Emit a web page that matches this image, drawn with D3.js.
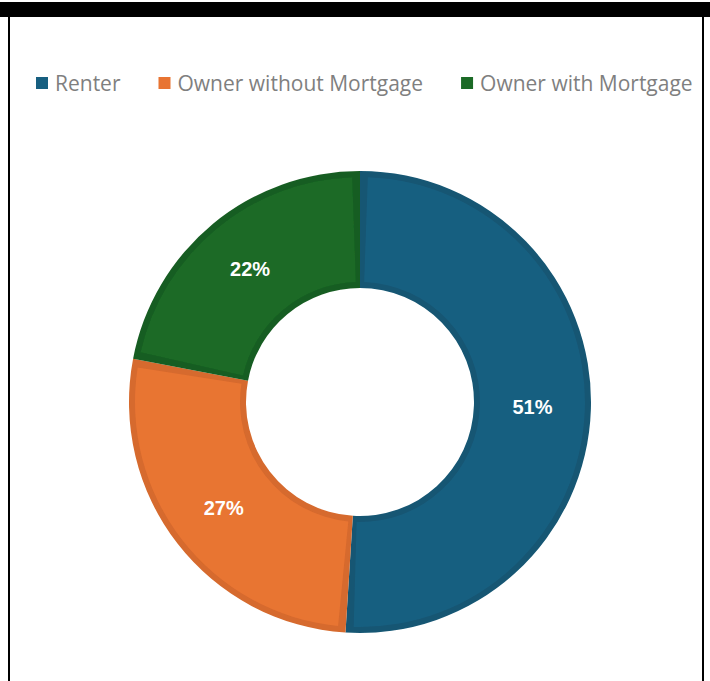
<!DOCTYPE html>
<html><head><meta charset="utf-8">
<script src="https://cdn.jsdelivr.net/npm/d3@7"></script>
<style>body{margin:0;background:#fff;}svg{display:block;}</style>
</head><body>
<svg id="c" width="710" height="681"></svg>
<script>
const categories = ["Renter", "Owner without Mortgage", "Owner with Mortgage"];
const values = [51, 27, 22];
const labels = ["51%", "27%", "22%"];
const colors = ["#175f80", "#e87432", "#1b6a26"];
const edgeColors = ["#145673", "#d66a2d", "#185d22"];

const svg = d3.select("#c");
// frame
svg.append("rect").attr("x", 0).attr("y", 2).attr("width", 710).attr("height", 15).attr("fill", "#000");
svg.append("line").attr("x1", 9).attr("x2", 9).attr("y1", 17).attr("y2", 681).attr("stroke", "#000").attr("stroke-width", 2);
svg.append("line").attr("x1", 703).attr("x2", 703).attr("y1", 17).attr("y2", 681).attr("stroke", "#000").attr("stroke-width", 2);

// legend
const legend = svg.append("g").attr("font-family", "'Open Sans', sans-serif").attr("font-size", 21);
let lx = 36;
categories.forEach((c, i) => {
  const g = legend.append("g").attr("transform", `translate(${lx},0)`);
  g.append("rect").attr("x", 0).attr("y", 77).attr("width", 12).attr("height", 12).attr("fill", colors[i]);
  const t = g.append("text").attr("x", 19).attr("y", 90.5).attr("fill", "#7f7f7f").text(c);
  lx += 19 + t.node().getComputedTextLength() + 38;
});

// donut
const cx = 360, cy = 402, R = 231, r = 114, bw = 6;
const pie = d3.pie().sort(null).value(d => d)(values);
const defs = svg.append("defs");
defs.append("filter").attr("id", "soft").append("feGaussianBlur").attr("stdDeviation", 0.7);
const arcOuter = d3.arc().innerRadius(r).outerRadius(R);
const arcInner = d3.arc().innerRadius(r + bw).outerRadius(R - bw);
const g = svg.append("g").attr("transform", `translate(${cx},${cy})`).attr("filter", "url(#soft)");
pie.forEach((p, i) => {
  g.append("path").attr("d", arcOuter(p)).attr("fill", edgeColors[i]);
});
pie.forEach((p, i) => {
  const pad = bw / ((R + r) / 2);
  const q = {startAngle: p.startAngle + pad, endAngle: p.endAngle - pad};
  g.append("path").attr("d", arcInner(q)).attr("fill", colors[i]);
});
const arcMid = d3.arc().innerRadius(r).outerRadius(R);
const lg = svg.append("g").attr("transform", `translate(${cx},${cy})`);
pie.forEach((p, i) => {
  const [x, y] = arcMid.centroid(p);
  lg.append("text").attr("x", x).attr("y", y).attr("text-anchor", "middle").attr("dy", "0.35em")
    .attr("font-family", "'Liberation Sans', Arial, sans-serif").attr("font-weight", "bold").attr("font-size", 20)
    .attr("fill", "#fff").text(labels[i]);
});
</script>
</body></html>
